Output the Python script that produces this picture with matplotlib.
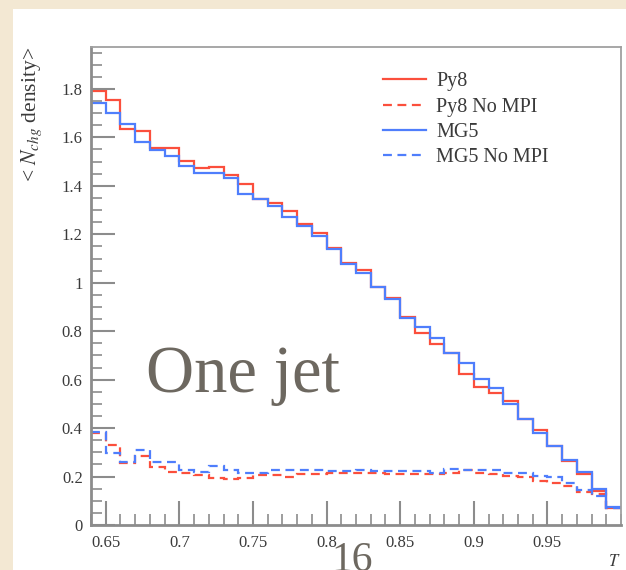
import numpy as np
import matplotlib
matplotlib.use("Agg")
import matplotlib.pyplot as plt
from matplotlib.patches import Rectangle
from matplotlib.ticker import MultipleLocator, FixedLocator, FuncFormatter

plt.rcParams['font.family'] = ['Liberation Serif', 'DejaVu Serif']
plt.rcParams['mathtext.fontset'] = 'stix'

# ---------------------------------------------------------------
# DATA  (36 bins of width 0.01 in T, from 0.64 to 1.00)
edges = np.linspace(0.64, 1.00, 37)

py8 = [1.793, 1.754, 1.633, 1.627, 1.556, 1.556, 1.502, 1.473, 1.478, 1.444,
       1.407, 1.347, 1.328, 1.297, 1.242, 1.204, 1.142, 1.080, 1.052, 0.981,
       0.936, 0.860, 0.794, 0.747, 0.709, 0.622, 0.568, 0.546, 0.510, 0.436,
       0.392, 0.326, 0.263, 0.210, 0.142, 0.069]
mg5 = [1.743, 1.702, 1.654, 1.581, 1.548, 1.523, 1.482, 1.451, 1.451, 1.432,
       1.366, 1.345, 1.317, 1.270, 1.235, 1.193, 1.138, 1.077, 1.041, 0.984,
       0.934, 0.853, 0.818, 0.770, 0.709, 0.670, 0.603, 0.564, 0.499, 0.436,
       0.381, 0.326, 0.268, 0.220, 0.150, 0.076]
py8_nompi = [0.380, 0.330, 0.255, 0.285, 0.241, 0.217, 0.216, 0.206, 0.193, 0.189,
             0.193, 0.206, 0.205, 0.200, 0.212, 0.212, 0.213, 0.213, 0.213, 0.215,
             0.212, 0.212, 0.210, 0.209, 0.216, 0.225, 0.216, 0.209, 0.202, 0.197,
             0.183, 0.172, 0.162, 0.137, 0.128, 0.069]
mg5_nompi = [0.385, 0.298, 0.261, 0.310, 0.259, 0.259, 0.227, 0.220, 0.245, 0.227,
             0.216, 0.216, 0.225, 0.225, 0.226, 0.226, 0.224, 0.222, 0.226, 0.222,
             0.224, 0.224, 0.223, 0.216, 0.230, 0.225, 0.225, 0.225, 0.216, 0.213,
             0.204, 0.200, 0.175, 0.144, 0.120, 0.069]

xticks = [0.65, 0.70, 0.75, 0.80, 0.85, 0.90, 0.95]
yticks = [0, 0.2, 0.4, 0.6, 0.8, 1.0, 1.2, 1.4, 1.6, 1.8]

red = '#fb4f3c'
blue = '#4f7efc'
grey = '#8c8c8c'
textc = '#3a3a3a'

# ---------------------------------------------------------------
fig = plt.figure(figsize=(6.26, 5.70), dpi=100)
fig.patch.set_facecolor('#f3e8d3')
fig.patches.append(Rectangle((13/626, 0), 1, 1 - 9/570, transform=fig.transFigure,
                             facecolor='white', edgecolor='none', zorder=-10))

ax = fig.add_axes([91/626, 1 - 525/570, 530/626, 478/570])
ax.set_facecolor('white')

ax.stairs(py8, edges, baseline=None, color=red, lw=1.6, label='Py8')
ax.stairs(py8_nompi, edges, baseline=None, color=red, lw=1.6, ls=(0, (4, 2.5)), label='Py8 No MPI')
ax.stairs(mg5, edges, baseline=None, color=blue, lw=1.6, label='MG5')
ax.stairs(mg5_nompi, edges, baseline=None, color=blue, lw=1.6, ls=(0, (4, 2.5)), label='MG5 No MPI')

ax.set_xlim(0.64, 1.0)
ax.set_ylim(0, 1.973)

ax.xaxis.set_major_locator(FixedLocator(xticks))
ax.xaxis.set_minor_locator(MultipleLocator(0.01))
ax.yaxis.set_major_locator(FixedLocator(yticks))
ax.yaxis.set_minor_locator(MultipleLocator(0.05))
ax.xaxis.set_major_formatter(FuncFormatter(lambda v, p: '%g' % v))
ax.yaxis.set_major_formatter(FuncFormatter(lambda v, p: '%g' % v))

ax.tick_params(which='both', direction='in', top=False, right=False, color=grey,
               labelcolor=textc, labelsize=12)
ax.tick_params(which='major', length=17, width=1.5)
ax.tick_params(which='minor', length=8, width=1.2)
ax.tick_params(axis='x', pad=7)
ax.tick_params(axis='y', pad=6)

for s in ['left', 'bottom']:
    ax.spines[s].set_color(grey)
    ax.spines[s].set_linewidth(2)
for s in ['top', 'right']:
    ax.spines[s].set_color('#a0a0a0')
    ax.spines[s].set_linewidth(1.3)

ax.set_ylabel(r'< $N_{chg}$ density>', loc='top', fontsize=15.5, color=textc, labelpad=13)
ax.set_xlabel(r'$T$', loc='right', fontsize=12, color=textc, labelpad=2)

ax.legend(loc='upper left', bbox_to_anchor=(0.551, 0.947), frameon=False,
          fontsize=14.5, handlelength=2.15, handletextpad=0.5, labelspacing=0.3,
          borderpad=0, borderaxespad=0, labelcolor=textc)

ax.text(0.104, 0.278, 'One jet', transform=ax.transAxes, fontsize=48,
        color='#6d6860', ha='left', va='baseline')
fig.text(352/626, 1 - 571/570, '16', fontsize=30, color='#6d6860',
         ha='center', va='baseline')

fig.savefig('out.png', dpi=100, facecolor=fig.get_facecolor())
